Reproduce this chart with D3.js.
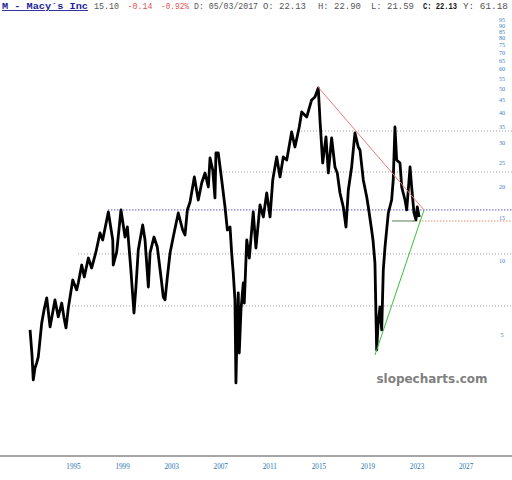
<!DOCTYPE html>
<html><head><meta charset="utf-8">
<script src="https://cdn.jsdelivr.net/npm/d3@7"></script>
<style>body{margin:0;background:#fff}svg{display:block}</style>
</head><body>
<script>
// ---- data (decimal year, price) ----
const dates = [1991.50,1991.66,1991.76,1991.90,1992.04,1992.17,1992.45,1992.64,1992.86,1993.13,1993.53,1993.80,1994.08,1994.27,1994.43,1994.62,1994.98,1995.30,1995.43,1995.71,1995.92,1996.25,1996.52,1996.87,1997.20,1997.42,1997.88,1998.24,1998.28,1998.56,1998.91,1999.24,1999.43,1999.70,1999.97,2000.13,2000.32,2000.68,2000.87,2001.14,2001.28,2001.60,2001.87,2002.23,2002.36,2002.50,2002.69,2002.91,2003.17,2003.58,2003.94,2004.13,2004.32,2004.54,2004.89,2005.21,2005.49,2005.76,2006.03,2006.17,2006.39,2006.57,2006.65,2006.84,2007.12,2007.39,2007.58,2007.80,2007.93,2008.06,2008.20,2008.28,2008.37,2008.47,2008.55,2008.69,2008.88,2008.96,2009.16,2009.37,2009.69,2009.91,2010.24,2010.51,2010.79,2011.06,2011.28,2011.60,2011.87,2012.14,2012.42,2012.82,2013.09,2013.44,2013.64,2014.05,2014.45,2014.72,2014.99,2015.13,2015.35,2015.62,2015.81,2016.08,2016.35,2016.54,2016.76,2017.03,2017.25,2017.44,2017.71,2017.98,2018.25,2018.39,2018.66,2018.94,2019.07,2019.34,2019.45,2019.61,2019.75,2019.86,2020.02,2020.16,2020.29,2020.43,2020.70,2020.97,2021.10,2021.24,2021.38,2021.65,2021.79,2022.06,2022.20,2022.47,2022.60,2022.79,2022.95,2023.06,2023.22];
const prices = [5.25,4.15,3.29,3.68,3.86,4.08,5.60,6.33,7.08,5.40,6.95,5.93,6.75,5.87,5.35,6.45,8.37,7.63,8.14,9.63,8.61,10.28,9.37,10.88,12.99,12.17,15.81,12.17,9.63,10.88,16.11,12.51,13.74,9.45,6.15,7.84,11.08,14.00,12.17,7.84,10.78,12.51,11.40,8.14,7.14,6.95,8.61,10.78,12.51,15.66,13.36,12.75,16.11,17.36,21.93,17.68,20.73,22.76,19.97,26.19,23.41,18.02,27.44,27.44,21.32,16.56,13.36,13.74,10.78,8.94,6.95,3.20,5.25,7.42,4.23,6.33,8.14,6.75,12.17,10.28,15.81,11.29,16.88,15.09,18.88,15.09,21.32,26.43,21.93,26.43,25.70,33.39,29.02,34.98,40.25,38.41,45.03,46.31,50.37,37.35,24.99,31.86,22.76,31.57,24.07,22.76,18.88,16.56,13.74,19.42,24.07,33.08,29.02,28.22,21.32,18.19,16.56,13.36,12.17,9.81,4.35,5.50,6.51,5.25,9.19,11.40,15.66,17.68,21.32,34.98,25.70,24.99,19.97,17.68,16.11,24.07,19.97,15.66,14.67,16.56,15.09];

const yearTicks = [1995,1999,2003,2007,2011,2015,2019,2023,2027];
const priceTicks = [95,90,85,80,75,70,65,60,55,50,45,40,35,30,25,20,15,10,5];

// horizontal reference levels: [startYear, value]
const grayLevels = [[2013.34,33.7],[2006.98,22.97],[1995.41,10.68],[1994.92,6.57]];
const blueLevel = [1997.85,16.11];
const salmonLevel = [2022.71,14.53];
const supportSeg = [[2021.00,14.53],[2022.87,14.53]];
const redTrend = [[2014.97,50.8],[2023.61,16.11]];
const greenTrend = [[2019.61,4.15],[2023.61,16.11]];

const header = [
  {t:"M - Macy`s Inc", x:2, w:86, c:"#1c1c9c", b:true, u:true},
  {t:"15.10", x:94, w:25, c:"#555"},
  {t:"-0.14", x:127.5, w:25, c:"#e05555"},
  {t:"-0.92%", x:161, w:28, c:"#e05555"},
  {t:"D: 05/03/2017", x:194, w:64, c:"#555"},
  {t:"O: 22.13", x:263, w:43, c:"#555"},
  {t:"H: 22.90", x:318, w:43, c:"#555"},
  {t:"L: 21.59", x:371, w:43, c:"#555"},
  {t:"C: 22.13", x:423, w:34, c:"#111", b:true},
  {t:"Y: 61.18", x:463, w:45, c:"#555"}
];

const W = 512, H = 480;
const svg = d3.select("body").append("svg").attr("width", W).attr("height", H);

const x = d3.scaleLinear().domain([1989.05, 2030.78]).range([0, W]);
const y = d3.scaleLog().domain([3, 100]).range([389.8, 14.6]);

// header
header.forEach(h => {
  svg.append("text").attr("x", h.x).attr("y", 9)
    .attr("font-family", "'Liberation Mono', 'DejaVu Sans Mono', monospace")
    .attr("font-size", 9).attr("fill", h.c)
    .attr("font-weight", h.b ? "bold" : "normal")
    .attr("text-decoration", h.u ? "underline" : null)
    .attr("textLength", h.w).attr("lengthAdjust", "spacingAndGlyphs")
    .text(h.t);
});

// reference lines
grayLevels.forEach(g => {
  svg.append("line").attr("x1", x(g[0])).attr("x2", W).attr("y1", y(g[1])).attr("y2", y(g[1]))
    .attr("stroke", "#9a9a9a").attr("stroke-width", 1).attr("stroke-dasharray", "1,2");
});
svg.append("line").attr("x1", x(blueLevel[0])).attr("x2", W).attr("y1", y(blueLevel[1])).attr("y2", y(blueLevel[1]))
  .attr("stroke", "#5a5ac8").attr("stroke-width", 1).attr("stroke-dasharray", "1.5,1.5");
svg.append("line").attr("x1", x(salmonLevel[0])).attr("x2", W).attr("y1", y(salmonLevel[1])).attr("y2", y(salmonLevel[1]))
  .attr("stroke", "#e09070").attr("stroke-width", 1).attr("stroke-dasharray", "1.5,1.5");

// price
const line = d3.line().x((d,i) => x(dates[i])).y((d,i) => y(prices[i]));
svg.append("path").datum(prices).attr("d", line)
  .attr("fill", "none").attr("stroke", "#000").attr("stroke-width", 2.8).attr("stroke-linejoin", "round");

// trend lines
const seg = d3.line().x(d => x(d[0])).y(d => y(d[1]));
svg.append("path").attr("d", seg(supportSeg)).attr("stroke", "#5a7a5a").attr("stroke-width", 1).attr("fill", "none");
svg.append("path").attr("d", seg(redTrend)).attr("stroke", "#f07878").attr("stroke-width", 1).attr("fill", "none");
svg.append("path").attr("d", seg(greenTrend)).attr("stroke", "#3cc03c").attr("stroke-width", 1).attr("fill", "none");

// right axis labels
svg.append("g").selectAll("text").data(priceTicks).join("text")
  .attr("x", 502).attr("y", d => y(d) + 2).attr("text-anchor", "middle")
  .attr("font-family", "'Liberation Serif', 'DejaVu Serif', serif").attr("font-size", 6.2)
  .attr("fill", "#3f84c4").text(d => d);

// bottom axis
const xAxis = d3.axisBottom(x).tickValues(yearTicks).tickFormat(d3.format("d")).tickSize(0).tickPadding(8);
const gx = svg.append("g").attr("transform", "translate(0,456)").call(xAxis);
gx.select(".domain").attr("stroke", "#888").attr("stroke-width", 1.5).attr("d", `M0,0H${W}`);
gx.selectAll("text").attr("font-family", "'Liberation Serif', 'DejaVu Serif', serif").attr("font-size", 7.2).attr("fill", "#2a74b0");

// watermark
svg.append("text").attr("x", 432).attr("y", 383).attr("text-anchor", "middle")
  .attr("font-family", "'DejaVu Sans', Verdana, sans-serif").attr("font-weight", "bold")
  .attr("font-size", 12).attr("fill", "#808080").text("slopecharts.com");
</script>
</body></html>
